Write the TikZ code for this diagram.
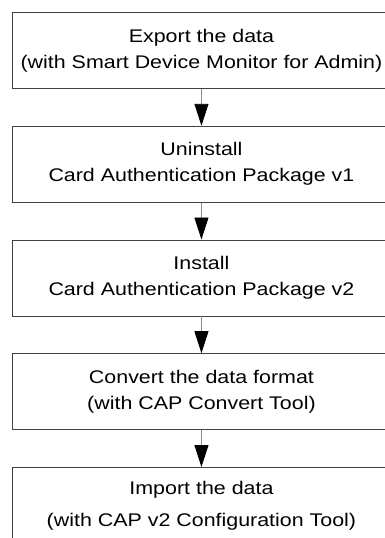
\documentclass[tikz,border=0pt]{standalone}
\usepackage{fontspec}
\setmainfont{Liberation Sans}[FakeStretch=1.17]
\usetikzlibrary{arrows.meta}
\begin{document}
\begin{tikzpicture}[x=1pt,y=-1pt,
  stepbox/.style={draw=black!75, line width=0.9pt, rectangle, anchor=north west,
    minimum width=378pt, minimum height=76pt, inner sep=0pt, align=center,
    font=\fontsize{18.3}{26}\selectfont},
  flow/.style={draw=black!45, line width=0.9pt,
    -{Triangle[length=22pt,width=14pt,color=black]}}]
\useasboundingbox (0,0) rectangle (385,538);
\fill[white] (0,0) rectangle (385,538);
\clip (0,0) rectangle (385,538);
\node[stepbox] (b1) at (12,12) {Export the data\\(with Smart Device Monitor for Admin)};
\node[stepbox] (b2) at (12,125.8) {Uninstall\\Card Authentication Package v1};
\node[stepbox] (b3) at (12,239.5) {Install\\Card Authentication Package v2};
\node[stepbox] (b4) at (12,353.2) {Convert the data format\\(with CAP Convert Tool)};
\node[stepbox, font=\fontsize{18.3}{32}\selectfont] (b5) at (12,467) {Import the data\\(with CAP v2 Configuration Tool)};
\draw[flow] (b1) -- (b2);
\draw[flow] (b2) -- (b3);
\draw[flow] (b3) -- (b4);
\draw[flow] (b4) -- (b5);
\end{tikzpicture}
\end{document}
